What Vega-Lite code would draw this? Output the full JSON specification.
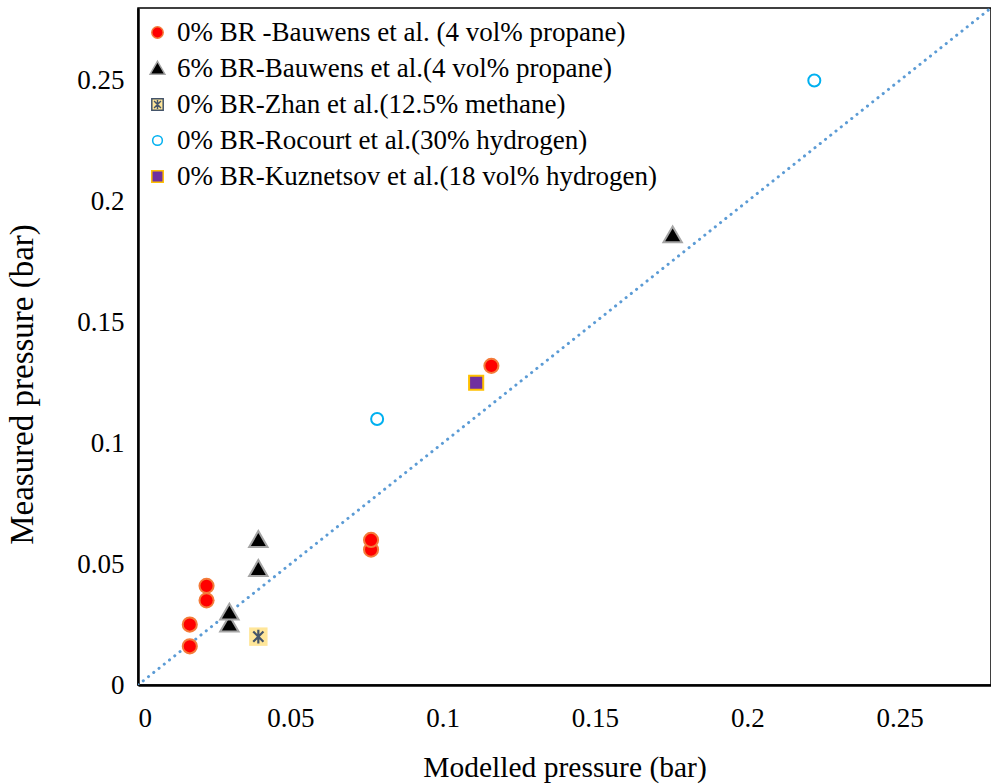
{
  "$schema": "https://vega.github.io/schema/vega-lite/v6.json",
  "width": 853,
  "height": 677,
  "autosize": {"type": "none"},
  "padding": {"left": 138, "top": 8, "right": 0, "bottom": 99},
  "background": "white",
  "config": {
    "font": "Liberation Serif",
    "view": {"stroke": "black", "strokeWidth": 1.5},
    "axis": {"grid": false, "ticks": false, "domainColor": "black", "domainWidth": 2.5,
      "labelFont": "Liberation Serif", "labelFontSize": 27, "labelColor": "black",
      "titleFont": "Liberation Serif", "titleFontSize": 29.5, "titleFontWeight": "normal", "titleColor": "black"},
    "legend": {"labelFont": "Liberation Serif", "labelFontSize": 27, "labelColor": "black", "labelLimit": 700}
  },
  "datasets": {
    "pts": [
      {"series": "0% BR -Bauwens et al. (4 vol% propane)", "modelled": 0.017, "measured": 0.016},
      {"series": "0% BR -Bauwens et al. (4 vol% propane)", "modelled": 0.017, "measured": 0.025},
      {"series": "0% BR -Bauwens et al. (4 vol% propane)", "modelled": 0.0225, "measured": 0.035},
      {"series": "0% BR -Bauwens et al. (4 vol% propane)", "modelled": 0.0225, "measured": 0.041},
      {"series": "0% BR -Bauwens et al. (4 vol% propane)", "modelled": 0.0765, "measured": 0.056},
      {"series": "0% BR -Bauwens et al. (4 vol% propane)", "modelled": 0.0765, "measured": 0.060},
      {"series": "0% BR -Bauwens et al. (4 vol% propane)", "modelled": 0.116, "measured": 0.132},
      {"series": "6% BR-Bauwens et al.(4 vol% propane)", "modelled": 0.030, "measured": 0.025},
      {"series": "6% BR-Bauwens et al.(4 vol% propane)", "modelled": 0.030, "measured": 0.030},
      {"series": "6% BR-Bauwens et al.(4 vol% propane)", "modelled": 0.0395, "measured": 0.048},
      {"series": "6% BR-Bauwens et al.(4 vol% propane)", "modelled": 0.0395, "measured": 0.060},
      {"series": "6% BR-Bauwens et al.(4 vol% propane)", "modelled": 0.1755, "measured": 0.186},
      {"series": "0% BR-Zhan et al.(12.5% methane)", "modelled": 0.0395, "measured": 0.020},
      {"series": "0% BR-Rocourt et al.(30% hydrogen)", "modelled": 0.0785, "measured": 0.110},
      {"series": "0% BR-Rocourt et al.(30% hydrogen)", "modelled": 0.222, "measured": 0.250},
      {"series": "0% BR-Kuznetsov et al.(18 vol% hydrogen)", "modelled": 0.111, "measured": 0.125}
    ],
    "diag": [{"modelled": 0, "measured": 0}, {"modelled": 0.28, "measured": 0.28}]
  },
  "layer": [
    {
      "data": {"name": "diag"},
      "mark": {"type": "line", "color": "#5b9bd5", "strokeWidth": 3, "strokeDash": [0.1, 6.6], "strokeCap": "round", "clip": true},
      "encoding": {
        "x": {"field": "modelled", "type": "quantitative", "scale": {"domain": [0, 0.28], "nice": false},
          "axis": {"values": [0, 0.05, 0.1, 0.15, 0.2, 0.25], "format": ".2~f", "labelPadding": 20, "title": "Modelled pressure (bar)", "titlePadding": 22}},
        "y": {"field": "measured", "type": "quantitative", "scale": {"domain": [0, 0.28], "nice": false},
          "axis": {"values": [0, 0.05, 0.1, 0.15, 0.2, 0.25], "format": ".2~f", "labelPadding": 14, "title": "Measured pressure (bar)", "titleFontSize": 33, "titleX": -116, "titleY": 376, "titleBaseline": "middle"}}
      }
    },
    {
      "data": {"name": "pts"},
      "mark": {"type": "point", "filled": false, "strokeWidth": 2, "opacity": 1, "size": 200},
      "encoding": {
        "x": {"field": "modelled", "type": "quantitative"},
        "y": {"field": "measured", "type": "quantitative"},
        "shape": {"field": "series", "type": "nominal",
          "scale": {"domain": ["0% BR -Bauwens et al. (4 vol% propane)", "6% BR-Bauwens et al.(4 vol% propane)", "0% BR-Zhan et al.(12.5% methane)", "0% BR-Rocourt et al.(30% hydrogen)", "0% BR-Kuznetsov et al.(18 vol% hydrogen)"],
            "range": ["circle", "M0,-1.25L1.3,1L-1.3,1Z", "M-1,-1H1V1H-1Z M-0.6,-0.6L0.6,0.6 M0.6,-0.6L-0.6,0.6 M0,-0.8L0,0.8", "M-0.85,0A0.85,0.85 0 1,0 0.85,0A0.85,0.85 0 1,0 -0.85,0Z", "M-1,-1H1V1H-1Z"]},
          "legend": {"title": null, "orient": "none", "legendX": 6, "legendY": 11, "rowPadding": 8, "labelOffset": 6, "symbolSize": 130, "symbolStrokeWidth": 1.5, "padding": 0, "labelFont": "Liberation Serif", "labelFontSize": 27}},
        "fill": {"field": "series", "type": "nominal",
          "scale": {"domain": ["0% BR -Bauwens et al. (4 vol% propane)", "6% BR-Bauwens et al.(4 vol% propane)", "0% BR-Zhan et al.(12.5% methane)", "0% BR-Rocourt et al.(30% hydrogen)", "0% BR-Kuznetsov et al.(18 vol% hydrogen)"],
            "range": ["#ff0000", "#000000", "#ffe699", "#ffffff", "#7030a0"]}},
        "stroke": {"field": "series", "type": "nominal",
          "scale": {"domain": ["0% BR -Bauwens et al. (4 vol% propane)", "6% BR-Bauwens et al.(4 vol% propane)", "0% BR-Zhan et al.(12.5% methane)", "0% BR-Rocourt et al.(30% hydrogen)", "0% BR-Kuznetsov et al.(18 vol% hydrogen)"],
            "range": ["#f47b3a", "#a5a5a5", "#44546a", "#00b0f0", "#ffc000"]}}
      }
    },
    {
      "data": {"name": "pts"},
      "transform": [{"filter": "datum.series === '0% BR-Zhan et al.(12.5% methane)'"}],
      "mark": {"type": "point", "shape": "square", "filled": true, "fill": "#ffe699", "opacity": 1, "size": 340, "strokeWidth": 0},
      "encoding": {
        "x": {"field": "modelled", "type": "quantitative"},
        "y": {"field": "measured", "type": "quantitative"}
      }
    },
    {
      "data": {"name": "pts"},
      "transform": [{"filter": "datum.series === '0% BR-Zhan et al.(12.5% methane)'"}],
      "mark": {"type": "point", "shape": "M-0.6,-0.6L0.6,0.6 M0.6,-0.6L-0.6,0.6 M0,-0.8L0,0.8", "filled": false, "stroke": "#44546a", "opacity": 1, "size": 289, "strokeWidth": 2.2},
      "encoding": {
        "x": {"field": "modelled", "type": "quantitative"},
        "y": {"field": "measured", "type": "quantitative"}
      }
    }
  ]
}
